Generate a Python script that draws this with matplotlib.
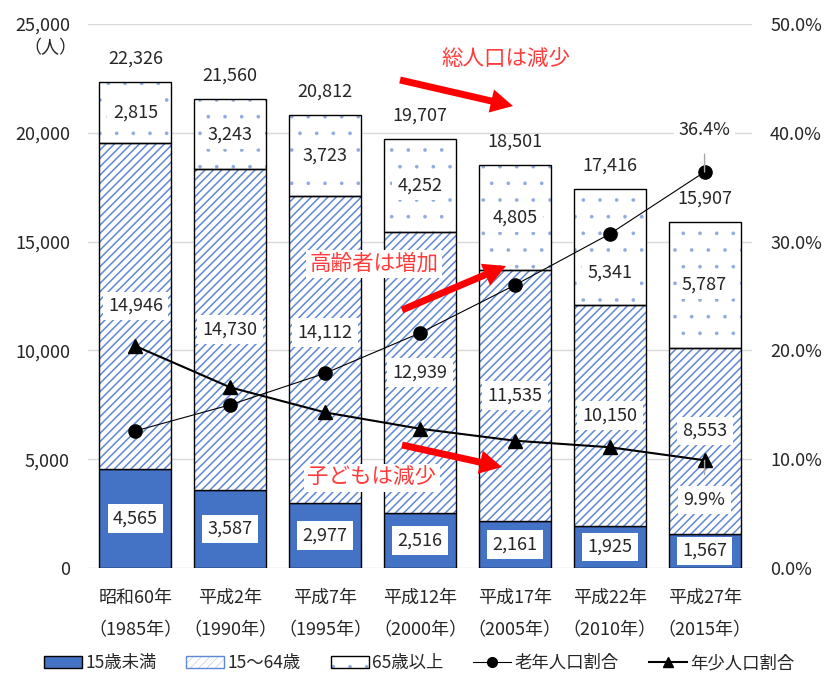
import matplotlib
matplotlib.use("Agg")
import matplotlib.pyplot as plt
from matplotlib.patches import Patch
from matplotlib.lines import Line2D
from matplotlib.legend_handler import HandlerTuple

plt.rcParams['font.family'] = ['Noto Sans CJK JP', 'DejaVu Sans']
plt.rcParams['hatch.linewidth'] = 1.1

# ---- data ----
categories = ['昭和60年\n（1985年）', '平成2年\n（1990年）', '平成7年\n（1995年）',
              '平成12年\n（2000年）', '平成17年\n（2005年）', '平成22年\n（2010年）',
              '平成27年\n（2015年）']
young = [4565, 3587, 2977, 2516, 2161, 1925, 1567]        # 15歳未満
working = [14946, 14730, 14112, 12939, 11535, 10150, 8553]  # 15〜64歳
old = [2815, 3243, 3723, 4252, 4805, 5341, 5787]            # 65歳以上
totals = [22326, 21560, 20812, 19707, 18501, 17416, 15907]
old_ratio = [12.6, 15.0, 17.9, 21.6, 26.0, 30.7, 36.4]      # 老年人口割合
young_ratio = [20.4, 16.6, 14.3, 12.8, 11.7, 11.1, 9.9]     # 年少人口割合

# layout tweaks for label placement (not data)
mid_shift = [0, 0, 800, 0, 0, 0, 450]
old_shift = [0, 0, 0, 0, 0, -1150, 0]

BLUE = '#4472C4'
HATCH = '#5F88D2'
DOT = '#8EAADF'
TXT = '#262626'
RED = '#FF0000'
FS = 13

fig = plt.figure(figsize=(8.25, 6.82), dpi=100)
W, H = 825, 682
ax = fig.add_axes([88 / W, (H - 568) / H, 664 / W, 544 / H])

x = list(range(len(categories)))
bw = 0.76
base2 = young
base3 = [a + b for a, b in zip(young, working)]

# bars
ax.bar(x, young, bw, color=BLUE, edgecolor='black', linewidth=1, zorder=2)
ax.bar(x, working, bw, bottom=base2, color='white', edgecolor=HATCH,
       hatch='////', linewidth=0, zorder=2)
ax.bar(x, working, bw, bottom=base2, fill=False, edgecolor='black', linewidth=1, zorder=3)
plt.rcParams['hatch.linewidth'] = 0.2
dots = ax.bar(x, old, bw, bottom=base3, color='white', edgecolor=DOT,
              hatch='.', linewidth=0, zorder=2)
for p in dots:
    try:
        p.set_hatch_linewidth(0.2)
    except Exception:
        pass
ax.bar(x, old, bw, bottom=base3, fill=False, edgecolor='black', linewidth=1, zorder=3)

ax.set_xlim(-0.5, 6.5)
ax.set_ylim(0, 25000)
ax.set_yticks(range(0, 25001, 5000))
ax.set_yticklabels([f'{v:,}' for v in range(0, 25001, 5000)], fontsize=FS, color=TXT)
ax.set_xticks(x)
ax.set_xticklabels(categories, fontsize=FS, color=TXT, linespacing=2.0)
ax.tick_params(axis='both', length=0)
ax.tick_params(axis='y', pad=13)
ax.tick_params(axis='x', pad=15)
ax.grid(axis='y', color='#D9D9D9', linewidth=1, zorder=0)
ax.set_axisbelow(True)
for s in ax.spines.values():
    s.set_visible(False)

box = dict(boxstyle='square,pad=0.3', facecolor='white', edgecolor='none')
for i in x:
    ax.text(i, young[i] / 2, f'{young[i]:,}', ha='center', va='center',
            fontsize=FS, color=TXT, bbox=box, zorder=5)
    ax.text(i, base2[i] + working[i] / 2 + mid_shift[i], f'{working[i]:,}', ha='center',
            va='center', fontsize=FS, color=TXT, bbox=box, zorder=5)
    ax.text(i, base3[i] + old[i] / 2 + old_shift[i], f'{old[i]:,}', ha='center',
            va='center', fontsize=FS, color=TXT, bbox=box, zorder=5)
    ax.text(i, totals[i] + 1080, f'{totals[i]:,}', ha='center', va='center',
            fontsize=FS, color=TXT, zorder=5)

# right axis & lines
ax2 = ax.twinx()
ax2.set_ylim(0, 50)
ax2.set_yticks(range(0, 51, 10))
ax2.set_yticklabels([f'{v:.1f}%' for v in range(0, 51, 10)], fontsize=FS, color=TXT)
ax2.tick_params(axis='y', length=0, pad=13)
for s in ax2.spines.values():
    s.set_visible(False)

ax2.plot(x, old_ratio, color='black', linewidth=0.8, marker='o', markersize=9.5, zorder=4)
ax2.plot(x, young_ratio, color='black', linewidth=1.5, marker='^', markersize=9.5, zorder=4)

ax2.annotate(f'{old_ratio[-1]:.1f}%', xy=(6, old_ratio[-1]), xytext=(6, 40.3),
             ha='center', va='center', fontsize=FS, color=TXT,
             bbox=dict(boxstyle='square,pad=0.25', facecolor='white', edgecolor='none'),
             arrowprops=dict(arrowstyle='-', color='#A6A6A6', lw=1, shrinkA=8, shrinkB=0),
             zorder=6)
ax2.annotate(f'{young_ratio[-1]:.1f}%', xy=(6, young_ratio[-1]), xytext=(6, 6.25),
             ha='center', va='center', fontsize=FS, color=TXT,
             bbox=dict(boxstyle='square,pad=0.3', facecolor='white', edgecolor='none'),
             arrowprops=dict(arrowstyle='-', color='#A6A6A6', lw=1, shrinkA=8, shrinkB=0),
             zorder=6)

# annotations (figure pixel coordinates, origin bottom-left)
def fp(px, py):
    return (px, H - py)

arrow_style = 'simple,head_width=1.7,head_length=1.6,tail_width=0.5'
for (x0, y0), (x1, y1) in [((400, 80), (513, 106)), ((402, 310), (506, 266)),
                           ((402, 445), (502, 467))]:
    ax2.annotate('', xy=fp(x1, y1), xycoords='figure pixels',
                 xytext=fp(x0, y0), textcoords='figure pixels',
                 arrowprops=dict(arrowstyle=arrow_style, color=RED, mutation_scale=10,
                                 shrinkA=0, shrinkB=0, lw=0), zorder=7)

TRED = '#FF3B3B'
fig.text(506 / W, (H - 60) / H, '総人口は減少', ha='center', va='center',
         fontsize=15.5, color=TRED, zorder=8)
fig.text(374 / W, (H - 264) / H, '高齢者は増加', ha='center', va='center',
         fontsize=15.5, color=TRED, zorder=8,
         bbox=dict(boxstyle='square,pad=0.15', facecolor='white', edgecolor='none'))
fig.text(372 / W, (H - 478) / H, '子どもは減少', ha='center', va='center',
         fontsize=15.5, color=TRED, zorder=8,
         bbox=dict(boxstyle='square,pad=0.15', facecolor='white', edgecolor='none'))

fig.text(50 / W, (H - 48) / H, '（人）', ha='center', va='center', fontsize=FS, color=TXT)

# legend
h1 = Patch(facecolor=BLUE, edgecolor='black', linewidth=1)
h2 = (Patch(facecolor='white', edgecolor=HATCH, hatch='////', linewidth=0),
      Patch(fill=False, edgecolor=HATCH, linewidth=1))
h3 = (Patch(facecolor='white', edgecolor=DOT, hatch='.', linewidth=0),
      Patch(fill=False, edgecolor='black', linewidth=1))
h4 = Line2D([], [], color='black', linewidth=0.8, marker='o', markersize=7)
h5 = Line2D([], [], color='black', linewidth=1.5, marker='^', markersize=7)
fig.legend([h1, h2, h3, h4, h5], ['15歳未満', '15〜64歳', '65歳以上', '老年人口割合', '年少人口割合'],
           handler_map={tuple: HandlerTuple(ndivide=1)},
           loc='center', bbox_to_anchor=(0.508, (H - 663) / H), ncol=5, frameon=False,
           fontsize=12.5, handlelength=2.2, handletextpad=0.2, columnspacing=1.7,
           labelcolor=TXT)

fig.savefig('out.png', dpi=100)
